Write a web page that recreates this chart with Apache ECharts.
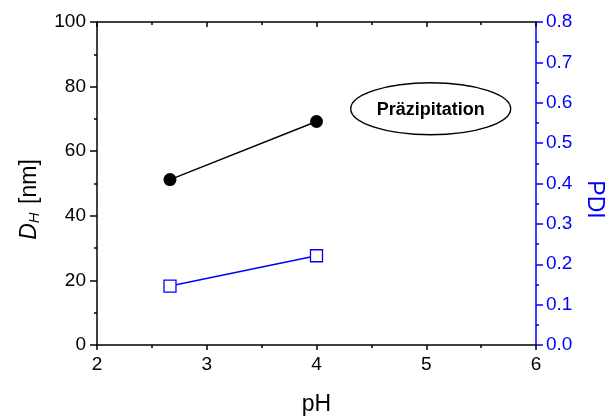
<!DOCTYPE html>
<html><head><meta charset="utf-8">
<script src="https://cdn.jsdelivr.net/npm/echarts@6/dist/echarts.min.js"></script>
<style>html,body{margin:0;padding:0;background:#fff}#c{width:609px;height:419px}</style>
</head><body><div id="c"></div>
<script>
const pH = [2.665, 4.0];
const dhValues = [51.2, 69.2];
const pdiValues = [0.146, 0.221];
const xTicks = [2, 3, 4, 5, 6];
const annotation = 'Präzipitation';

const chart = echarts.init(document.getElementById('c'), null, {renderer: 'canvas'});
const F = 'Liberation Sans, Arial, sans-serif';
const blue = '#0000ff';
const LW = 1.5;
chart.setOption({
  animation: false,
  grid: {left: 97, right: 73, top: 22, bottom: 74, containLabel: false, outerBoundsMode: 'none'},
  xAxis: [{
    type: 'value', min: xTicks[0], max: xTicks[xTicks.length - 1], interval: 1,
    name: 'pH', nameLocation: 'middle', nameGap: 48,
    nameTextStyle: {fontFamily: F, fontSize: 23, color: '#000'},
    axisLine: {onZero: false, lineStyle: {color: '#000', width: LW}},
    axisTick: {show: true, inside: false, length: 5, lineStyle: {color: '#000', width: LW}},
    minorTick: {show: true, splitNumber: 2, length: 3, lineStyle: {color: '#000', width: LW}},
    axisLabel: {fontFamily: F, fontSize: 19, color: '#000', margin: 10},
    splitLine: {show: false}
  }, {
    type: 'value', position: 'top', min: 2, max: 6, interval: 1,
    axisLine: {onZero: false, lineStyle: {color: '#000', width: LW}},
    axisTick: {show: true, inside: true, length: 5, lineStyle: {color: '#000', width: LW}},
    minorTick: {show: true, splitNumber: 2, length: 3, lineStyle: {color: '#000', width: LW}},
    axisLabel: {show: false}, splitLine: {show: false}
  }],
  yAxis: [{
    type: 'value', min: 0, max: 100, interval: 20, position: 'left',
    name: '{i|D}{s|H} [nm]', nameLocation: 'middle', nameGap: 55,
    nameTextStyle: {fontFamily: F, fontSize: 23, color: '#000', padding: [0, 32, 0, 0],
      rich: {i: {fontFamily: F, fontSize: 23, fontStyle: 'italic'},
             s: {fontFamily: F, fontSize: 15, fontStyle: 'italic', verticalAlign: 'bottom', padding: [9, 2, 0, 0]}}},
    axisLine: {show: true, onZero: false, lineStyle: {color: '#000', width: LW}},
    axisTick: {show: true, length: 7, lineStyle: {color: '#000', width: LW}},
    minorTick: {show: true, splitNumber: 2, length: 3, lineStyle: {color: '#000', width: LW}},
    axisLabel: {fontFamily: F, fontSize: 19, color: '#000', margin: 11},
    splitLine: {show: false}
  }, {
    type: 'value', min: 0, max: 0.8, interval: 0.1, position: 'right',
    name: 'PDI', nameLocation: 'middle', nameGap: 47, nameRotate: -90,
    nameTextStyle: {fontFamily: F, fontSize: 23, color: blue, padding: [0, 0, 0, 32]},
    axisLine: {show: true, onZero: false, lineStyle: {color: blue, width: LW}},
    axisTick: {show: true, length: 7, lineStyle: {color: blue, width: LW}},
    minorTick: {show: true, splitNumber: 2, length: 3, lineStyle: {color: blue, width: LW}},
    axisLabel: {fontFamily: F, fontSize: 19, color: blue, margin: 10,
      formatter: v => v.toFixed(1)},
    splitLine: {show: false}
  }],
  series: [{
    type: 'line', xAxisIndex: 0, yAxisIndex: 0,
    data: pH.map((x, i) => [x, dhValues[i]]),
    symbol: 'circle', symbolSize: 13,
    itemStyle: {color: '#000'},
    lineStyle: {color: '#000', width: 1.4}
  }, {
    type: 'line', xAxisIndex: 0, yAxisIndex: 1,
    data: pH.map((x, i) => [x, pdiValues[i]]),
    symbol: 'rect', symbolSize: 12,
    itemStyle: {color: '#fff', borderColor: blue, borderWidth: 1.3},
    lineStyle: {color: blue, width: 1.4}
  }],
  graphic: [{
    type: 'group', left: 350, top: 82,
    children: [{
      type: 'ellipse', shape: {cx: 80, cy: 26, rx: 80, ry: 26},
      style: {fill: '#fff', stroke: '#000', lineWidth: 1.4}
    }, {
      type: 'text', x: 80, y: 27,
      style: {text: annotation, fontFamily: F, fontSize: 18, fontWeight: 'bold',
        fill: '#000', align: 'center', verticalAlign: 'middle'}
    }]
  }]
});
</script></body></html>
